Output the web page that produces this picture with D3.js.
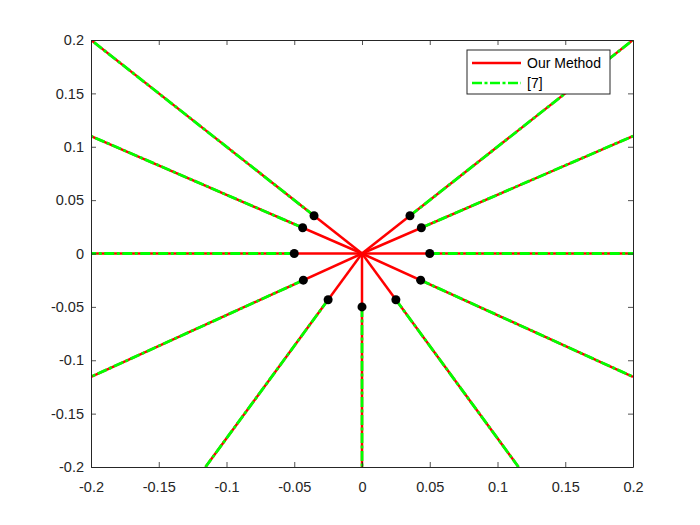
<!DOCTYPE html>
<html>
<head>
<meta charset="utf-8">
<script src="https://cdn.jsdelivr.net/npm/d3@7"></script>
<style>
  body { margin: 0; background: #fff; }
  svg { display: block; }
</style>
</head>
<body>
<div id="chart"></div>
<script>
// ray end points (where each ray leaves the axes box)
const endX = [0.2, 0.2, 0.2, 0.2, 0.1155, 0, -0.1155, -0.2, -0.2, -0.2, -0.2];
const endY = [0.2, 0.11, 0, -0.1155, -0.2, -0.2, -0.2, -0.1155, 0, 0.11, 0.2];
// black markers on each ray
const dotX = [0.0354, 0.0438, 0.05, 0.0433, 0.025, 0, -0.025, -0.0433, -0.05, -0.0438, -0.0354];
const dotY = [0.0354, 0.0241, 0, -0.025, -0.0433, -0.05, -0.0433, -0.025, 0, 0.0241, 0.0354];
const tickVals = [-0.2, -0.15, -0.1, -0.05, 0, 0.05, 0.1, 0.15, 0.2];
const tickLabels = ["-0.2", "-0.15", "-0.1", "-0.05", "0", "0.05", "0.1", "0.15", "0.2"];
const seriesNames = ["Our Method", "[7]"];

const width = 700, height = 525;
const margin = { top: 40, right: 67, bottom: 58, left: 91 };
const w = width - margin.left - margin.right;
const h = height - margin.top - margin.bottom;
const axisColor = "#262626";
const red = "#ff0000", green = "#00ff00";
const dash = "10,2.5,3,2.5";

const svg = d3.select("#chart").append("svg")
  .attr("width", width)
  .attr("height", height)
  .style("font-family", "'Liberation Sans', Arial, sans-serif");

const g = svg.append("g")
  .attr("transform", `translate(${margin.left},${margin.top})`);

const x = d3.scaleLinear().domain([-0.2, 0.2]).range([0, w]);
const y = d3.scaleLinear().domain([-0.2, 0.2]).range([h, 0]);

g.append("clipPath").attr("id", "clip")
  .append("rect").attr("width", w).attr("height", h);

const plot = g.append("g").attr("clip-path", "url(#clip)");

const rays = endX.map((ex, i) => ({ ex, ey: endY[i], dx: dotX[i], dy: dotY[i] }));

// red solid rays from origin
plot.selectAll(".ours").data(rays).enter().append("line")
  .attr("x1", x(0)).attr("y1", y(0))
  .attr("x2", d => x(d.ex)).attr("y2", d => y(d.ey))
  .attr("stroke", red).attr("stroke-width", 2.5);

// green dash-dot from marker outward
plot.selectAll(".ref").data(rays).enter().append("line")
  .attr("x1", d => x(d.dx)).attr("y1", d => y(d.dy))
  .attr("x2", d => x(d.ex)).attr("y2", d => y(d.ey))
  .attr("stroke", green).attr("stroke-width", 2.8)
  .attr("stroke-dasharray", dash);

plot.selectAll(".dot").data(rays).enter().append("circle")
  .attr("cx", d => x(d.dx)).attr("cy", d => y(d.dy))
  .attr("r", 4.5).attr("fill", "#000");

// axes box with inward ticks on all sides
const tl = 5;
const bottomAxis = d3.axisBottom(x).tickValues(tickVals).tickSizeInner(-tl).tickSizeOuter(0)
  .tickFormat((d, i) => tickLabels[i]).tickPadding(15);
const leftAxis = d3.axisLeft(y).tickValues(tickVals).tickSizeInner(-tl).tickSizeOuter(0)
  .tickFormat((d, i) => tickLabels[i]).tickPadding(7);
const topAxis = d3.axisTop(x).tickValues(tickVals).tickSizeInner(-tl).tickSizeOuter(0).tickFormat("");
const rightAxis = d3.axisRight(y).tickValues(tickVals).tickSizeInner(-tl).tickSizeOuter(0).tickFormat("");

function styleAxis(sel) {
  sel.select(".domain").attr("stroke", axisColor);
  sel.selectAll(".tick line").attr("stroke", axisColor);
  sel.selectAll(".tick text").attr("fill", axisColor).style("font-size", "14.5px");
}

g.append("g").attr("transform", `translate(0,${h})`).call(bottomAxis).call(styleAxis);
g.append("g").call(leftAxis).call(styleAxis);
g.append("g").call(topAxis).call(styleAxis);
g.append("g").attr("transform", `translate(${w},0)`).call(rightAxis).call(styleAxis);
g.selectAll(".tick line").attr("stroke-width", 0.8);

// legend, anchored to the upper-right corner of the axes
const lgW = 143, lgH = 44;
const lg = g.append("g").attr("transform", `translate(${w - lgW - 23},${10})`);
lg.append("rect")
  .attr("width", lgW).attr("height", lgH)
  .attr("fill", "#fff").attr("stroke", axisColor).attr("stroke-width", 1);
seriesNames.forEach((name, i) => {
  const yy = 13 + i * 20;
  lg.append("line")
    .attr("x1", 5).attr("x2", 54).attr("y1", yy).attr("y2", yy)
    .attr("stroke", i === 0 ? red : green).attr("stroke-width", 2.5)
    .attr("stroke-dasharray", i === 0 ? null : dash);
  lg.append("text")
    .attr("x", 60).attr("y", yy).attr("dy", "0.35em")
    .attr("fill", "#000").style("font-size", "14px")
    .text(name);
});
</script>
</body>
</html>
